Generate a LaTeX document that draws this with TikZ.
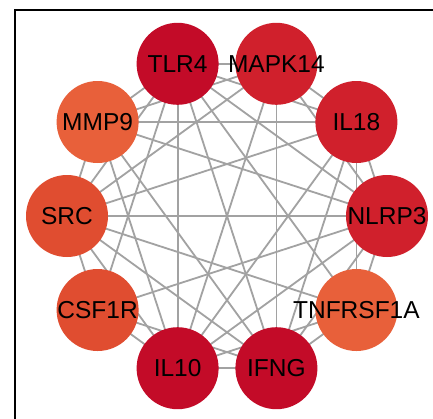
\documentclass[tikz,border=0pt]{standalone}
\usepackage{fontspec}
\setmainfont{Liberation Sans}
\pgfdeclarelayer{bg}
\pgfdeclarelayer{edges}
\pgfsetlayers{bg,edges,main}
\definecolor{darkred}{HTML}{C30B28}
\definecolor{midred}{HTML}{D0202C}
\definecolor{orred}{HTML}{E04D30}
\definecolor{orng}{HTML}{E8603A}
\definecolor{edgegray}{HTML}{A2A2A2}
\tikzset{
  gene/.style={circle, minimum size=82pt, inner sep=0pt, draw=none,
    font=\fontsize{24.5}{28}\selectfont, text=black},
  link/.style={draw=edgegray, line width=1.8pt}
}
\begin{document}
\begin{tikzpicture}[x=1pt,y=-1pt]
\useasboundingbox (0,0) rectangle (433,418);
\begin{pgfonlayer}{bg}
\fill[white] (0,0) rectangle (433,418);
\draw[line width=1.6pt, black] (15,440) -- (15,10) -- (450,10);
\end{pgfonlayer}
\node[gene, fill=midred]  (n0) at (387,216)     {\makebox[0pt]{NLRP3}};
\node[gene, fill=midred]  (n1) at (356.4,122)   {\makebox[0pt]{IL18}};
\node[gene, fill=midred]  (n2) at (276.4,63.8)  {\makebox[0pt]{MAPK14}};
\node[gene, fill=darkred] (n3) at (177.6,63.8)  {\makebox[0pt]{TLR4}};
\node[gene, fill=orng]    (n4) at (97.6,122)    {\makebox[0pt]{MMP9}};
\node[gene, fill=orred]   (n5) at (67,216)      {\makebox[0pt]{SRC}};
\node[gene, fill=orred]   (n6) at (97.6,310)    {\makebox[0pt]{CSF1R}};
\node[gene, fill=darkred] (n7) at (177.6,368.2) {\makebox[0pt]{IL10}};
\node[gene, fill=darkred] (n8) at (276.4,368.2) {\makebox[0pt]{IFNG}};
\node[gene, fill=orng]    (n9) at (356.4,310)   {\makebox[0pt]{TNFRSF1A}};
\begin{pgfonlayer}{edges}
\foreach \a/\b in {3/0,3/1,3/2,3/4,3/5,3/6,3/7,3/8,3/9,
  7/0,7/1,7/2,7/4,7/5,7/6,7/8,7/9,
  8/0,8/1,8/2,8/4,8/5,8/6,8/9,
  0/1,1/2,4/5,5/6,9/0,1/4,0/5,0/6,1/9,0/2,1/5,2/5,
  4/2,5/9,4/0}
  \draw[link] (n\a.center) -- (n\b.center);
\end{pgfonlayer}
\end{tikzpicture}
\end{document}
